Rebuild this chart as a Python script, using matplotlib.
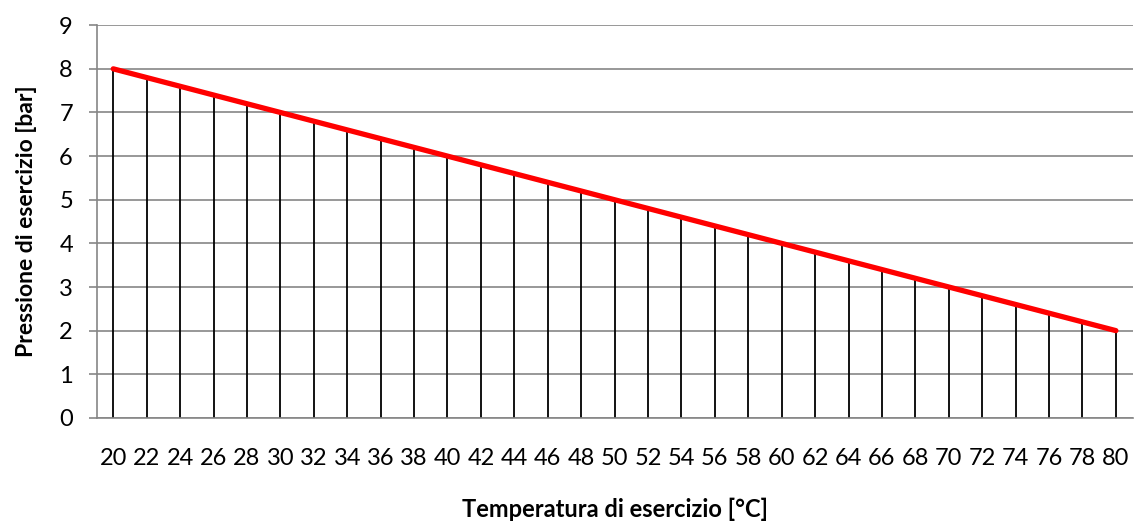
import matplotlib
matplotlib.use("Agg")
import matplotlib.pyplot as plt

# temperatura di esercizio [°C] e pressione di esercizio [bar]
temperature = [20, 22, 24, 26, 28, 30, 32, 34, 36, 38, 40, 42, 44, 46, 48, 50,
               52, 54, 56, 58, 60, 62, 64, 66, 68, 70, 72, 74, 76, 78, 80]
pressione = [8.0, 7.8, 7.6, 7.4, 7.2, 7.0, 6.8, 6.6, 6.4, 6.2, 6.0, 5.8, 5.6, 5.4, 5.2, 5.0,
             4.8, 4.6, 4.4, 4.2, 4.0, 3.8, 3.6, 3.4, 3.2, 3.0, 2.8, 2.6, 2.4, 2.2, 2.0]

plt.rcParams['font.family'] = ['Lato', 'DejaVu Sans']

fig = plt.figure(figsize=(11.36, 5.25), dpi=100)
ax = fig.add_axes([0.085, 0.204, 0.912, 0.748])

x = list(range(len(temperature)))
grey = '#868686'

# linee di caduta
ax.vlines(x, 0, pressione, color='black', linewidth=1.3, zorder=2)
ax.plot(x, pressione, color='#ff0000', linewidth=3.8, solid_capstyle='round', zorder=3)

ax.set_xlim(-0.5, len(x) - 0.5)
ax.set_ylim(0, 9)
ax.set_yticks(range(0, 10))
ax.set_xticks(x)
ax.set_xticklabels([str(t) for t in temperature])

ax.grid(axis='y', color=grey, linewidth=1.2, zorder=1)
for s in ['top', 'right']:
    ax.spines[s].set_visible(False)
ax.spines['left'].set_color(grey)
ax.spines['bottom'].set_color(grey)
ax.spines['left'].set_linewidth(1.2)
ax.spines['bottom'].set_linewidth(1.2)

ax.tick_params(axis='y', colors=grey, length=6, width=1.2, labelcolor='black', labelsize=17, pad=11)
ax.tick_params(axis='x', length=0, labelsize=17, pad=22)

ax.set_xlabel('Temperatura di esercizio [°C]', fontweight='bold', fontsize=17, labelpad=20)
ax.set_ylabel('Pressione di esercizio [bar]', fontweight='bold', fontsize=16.5, labelpad=16)

fig.savefig('out.png', dpi=100)
